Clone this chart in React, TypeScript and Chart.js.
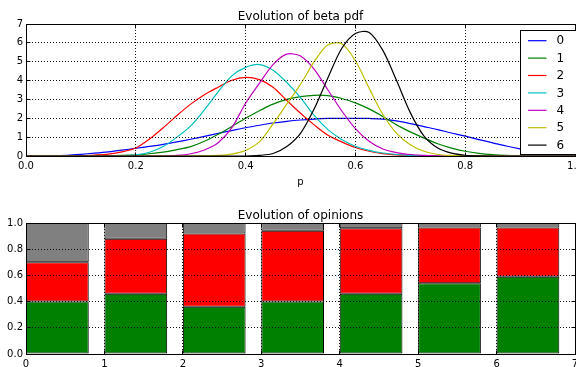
import React, { useEffect, useRef } from 'react';
import { Chart, registerables } from 'chart.js';

Chart.register(...registerables);

// ---------- Top chart: evolution of beta pdf ----------
const P = [0, 0.025, 0.05, 0.075, 0.1, 0.125, 0.15, 0.175, 0.2, 0.225, 0.25, 0.275, 0.3, 0.325, 0.35, 0.375, 0.4, 0.425, 0.45, 0.475, 0.5, 0.525, 0.55, 0.575, 0.6, 0.625, 0.65, 0.675, 0.7, 0.725, 0.75, 0.775, 0.8, 0.825, 0.85, 0.875, 0.9, 0.925, 0.95, 0.975, 1];

const SERIES_LABELS = ['0', '1', '2', '3', '4', '5', '6'];
const SERIES_COLORS = ['#0000ff', '#008000', '#ff0000', '#00bfbf', '#bf00bf', '#bfbf00', '#000000'];

const PDF_0 = [0, 0, 0.01, 0.04, 0.09, 0.15, 0.22, 0.31, 0.41, 0.51, 0.62, 0.75, 0.89, 1.04, 1.2, 1.35, 1.5, 1.63, 1.75, 1.84, 1.91, 1.96, 1.99, 2.0, 2.0, 1.99, 1.96, 1.86, 1.72, 1.56, 1.4, 1.22, 1.05, 0.87, 0.7, 0.53, 0.38, 0.25, 0.14, 0.05, 0];
const PDF_1 = [0, 0, 0, 0, 0, 0, 0.01, 0.03, 0.06, 0.12, 0.21, 0.34, 0.5, 0.78, 1.15, 1.57, 2.0, 2.4, 2.75, 3.0, 3.15, 3.22, 3.2, 3.05, 2.82, 2.5, 2.1, 1.65, 1.28, 0.95, 0.65, 0.42, 0.25, 0.14, 0.07, 0.03, 0.01, 0, 0, 0, 0];
const PDF_2 = [0, 0, 0, 0, 0.02, 0.05, 0.1, 0.22, 0.42, 0.9, 1.5, 2.15, 2.75, 3.25, 3.65, 4.02, 4.17, 4.05, 3.65, 2.95, 2.27, 1.65, 1.1, 0.75, 0.45, 0.25, 0.13, 0.06, 0.03, 0.01, 0, 0, 0, 0, 0, 0, 0, 0, 0, 0, 0];
const PDF_3 = [0, 0, 0, 0, 0, 0, 0, 0.02, 0.06, 0.2, 0.5, 1.0, 1.6, 2.45, 3.4, 4.25, 4.7, 4.85, 4.55, 3.9, 3.1, 2.15, 1.4, 0.88, 0.52, 0.3, 0.16, 0.08, 0.03, 0.01, 0, 0, 0, 0, 0, 0, 0, 0, 0, 0, 0];
const PDF_4 = [0, 0, 0, 0, 0, 0, 0, 0, 0, 0, 0, 0.03, 0.12, 0.32, 0.7, 1.5, 2.8, 3.85, 4.85, 5.4, 5.3, 4.6, 3.5, 2.4, 1.45, 0.78, 0.37, 0.18, 0.08, 0.03, 0.01, 0, 0, 0, 0, 0, 0, 0, 0, 0, 0];
const PDF_5 = [0, 0, 0, 0, 0, 0, 0, 0, 0, 0, 0, 0, 0, 0.01, 0.03, 0.1, 0.3, 0.75, 1.7, 2.75, 3.8, 5.0, 5.9, 5.95, 5.05, 3.6, 2.2, 1.2, 0.6, 0.25, 0.08, 0.03, 0.01, 0, 0, 0, 0, 0, 0, 0, 0];
const PDF_6 = [0, 0, 0, 0, 0, 0, 0, 0, 0, 0, 0, 0, 0, 0, 0, 0, 0, 0.03, 0.13, 0.5, 1.2, 2.5, 4.15, 5.7, 6.5, 6.55, 5.6, 4.0, 2.3, 1.05, 0.42, 0.15, 0.04, 0.01, 0, 0, 0, 0, 0, 0, 0];
const PDF_SERIES = [PDF_0, PDF_1, PDF_2, PDF_3, PDF_4, PDF_5, PDF_6];

const TOP_X_TICKS = ['0.0', '0.2', '0.4', '0.6', '0.8', '1.0'];
const TOP_Y_TICKS = ['0', '1', '2', '3', '4', '5', '6', '7'];

// ---------- Bottom chart: evolution of opinions ----------
const STEPS = [0, 1, 2, 3, 4, 5, 6];
const AGREE = [0.4, 0.46, 0.36, 0.4, 0.46, 0.54, 0.59];
const DISAGREE = [0.3, 0.42, 0.56, 0.54, 0.5, 0.425, 0.375];
const UNDECIDED = [0.3, 0.12, 0.08, 0.06, 0.04, 0.035, 0.035];
const BAR_COLORS = ['#008000', '#ff0000', '#808080'];
const BAR_WIDTH = 0.8;
const BOT_X_TICKS = ['0', '1', '2', '3', '4', '5', '6', '7'];
const BOT_Y_TICKS = ['0.0', '0.2', '0.4', '0.6', '0.8', '1.0'];

const FONT = '"DejaVu Sans", "Liberation Sans", sans-serif';
const W = 576;
const H = 367;

const al = (v: number) => Math.round(v - 0.5) + 0.5;

function makeDecor(cfg: { title: string; xlabel?: string; legend?: boolean }) {
  return {
    id: 'decor',
    afterDraw(chart: any) {
      const ctx = chart.ctx as CanvasRenderingContext2D;
      const a = chart.chartArea;
      const L = al(a.left), R = al(a.right), T = al(a.top), B = al(a.bottom);
      ctx.save();
      ctx.setLineDash([]);
      ctx.strokeStyle = '#000';
      ctx.lineWidth = 1;
      ctx.strokeRect(L, T, R - L, B - T);
      const xs = chart.scales.x, ys = chart.scales.y;
      ctx.beginPath();
      xs.ticks.forEach((t: any) => {
        const px = al(xs.getPixelForValue(t.value));
        ctx.moveTo(px, B); ctx.lineTo(px, B - 4);
        ctx.moveTo(px, T); ctx.lineTo(px, T + 4);
      });
      ys.ticks.forEach((t: any) => {
        const py = al(ys.getPixelForValue(t.value));
        ctx.moveTo(L, py); ctx.lineTo(L + 4, py);
        ctx.moveTo(R, py); ctx.lineTo(R - 4, py);
      });
      ctx.stroke();

      ctx.fillStyle = '#000';
      ctx.textAlign = 'center';
      ctx.textBaseline = 'alphabetic';
      ctx.font = `12px ${FONT}`;
      ctx.fillText(cfg.title, (a.left + a.right) / 2, a.top - 4);
      if (cfg.xlabel) {
        ctx.font = `10px ${FONT}`;
        ctx.fillText(cfg.xlabel, (a.left + a.right) / 2, a.bottom + 29);
      }

      if (cfg.legend) {
        const ds = chart.data.datasets;
        const bl = al(a.right - 54.5);
        const bt = a.top + 6.5;
        const bb = a.bottom - 1.5;
        ctx.fillStyle = '#fff';
        ctx.fillRect(bl, bt, 80, bb - bt);
        ctx.strokeStyle = '#000';
        ctx.lineWidth = 1;
        ctx.strokeRect(bl, bt, 80, bb - bt);
        ctx.font = `12px ${FONT}`;
        ctx.textAlign = 'left';
        ctx.textBaseline = 'middle';
        ds.forEach((d: any, i: number) => {
          const y = bt + 10.2 + i * 17.4;
          ctx.strokeStyle = d.borderColor;
          ctx.lineWidth = 1.2;
          ctx.beginPath();
          ctx.moveTo(bl + 7.5, y);
          ctx.lineTo(bl + 26, y);
          ctx.stroke();
          ctx.fillStyle = '#000';
          ctx.fillText(d.label, bl + 36, y + 0.5);
        });
      }
      ctx.restore();
    },
  };
}

const gridCommon = {
  color: 'rgba(0,0,0,0.9)',
  lineWidth: 1,
  drawTicks: false,
  z: 1,
};
const borderCommon = { display: false, dash: [1, 2] };
const tickFont = { family: FONT, size: 10 };

export default function App() {
  const topRef = useRef<HTMLCanvasElement | null>(null);
  const botRef = useRef<HTMLCanvasElement | null>(null);

  useEffect(() => {
    document.body.style.margin = '0';
    const top = new Chart(topRef.current as HTMLCanvasElement, {
      type: 'line',
      data: {
        datasets: PDF_SERIES.map((s, i) => ({
          label: SERIES_LABELS[i],
          data: P.map((p, j) => ({ x: p, y: s[j] })),
          borderColor: SERIES_COLORS[i],
          backgroundColor: SERIES_COLORS[i],
          borderWidth: 1.2,
          pointRadius: 0,
          fill: false,
          tension: 0.3,
          order: PDF_SERIES.length - i,
        })),
      },
      options: {
        animation: false,
        responsive: false,
        devicePixelRatio: 1,
        events: [],
        layout: { padding: { top: 24, bottom: H - 186, left: 0, right: 1 } },
        plugins: { legend: { display: false }, title: { display: false }, tooltip: { enabled: false } },
        scales: {
          x: {
            type: 'linear',
            min: 0,
            max: 1,
            afterFit: (s: any) => { s.height = 30; s.paddingLeft = 0; s.paddingRight = 0; },
            ticks: {
              stepSize: 0.2,
              padding: 4,
              color: '#000',
              font: tickFont,
              maxRotation: 0,
              autoSkip: false,
              callback: (_v: any, i: number) => TOP_X_TICKS[i],
            },
            grid: gridCommon,
            border: borderCommon,
          },
          y: {
            min: 0,
            max: 7,
            afterFit: (s: any) => { s.width = 26; s.paddingTop = 0; s.paddingBottom = 0; },
            ticks: {
              stepSize: 1,
              padding: 3,
              color: '#000',
              font: tickFont,
              autoSkip: false,
              callback: (_v: any, i: number) => TOP_Y_TICKS[i],
            },
            grid: gridCommon,
            border: borderCommon,
          },
        },
      },
      plugins: [makeDecor({ title: 'Evolution of beta pdf', xlabel: 'p', legend: true })],
    } as any);

    const barSets = [AGREE, DISAGREE, UNDECIDED];
    const bot = new Chart(botRef.current as HTMLCanvasElement, {
      type: 'bar',
      data: {
        datasets: barSets.map((vals, k) => ({
          label: ['agree', 'disagree', 'undecided'][k],
          data: STEPS.map((s, i) => ({ x: s + BAR_WIDTH / 2, y: vals[i] })),
          backgroundColor: BAR_COLORS[k],
          borderColor: '#000',
          borderWidth: 1,
          borderSkipped: false,
          barPercentage: BAR_WIDTH,
          categoryPercentage: 1,
        })),
      },
      options: {
        animation: false,
        responsive: false,
        devicePixelRatio: 1,
        events: [],
        layout: { padding: { top: 223, bottom: 0, left: 0, right: 1 } },
        plugins: { legend: { display: false }, title: { display: false }, tooltip: { enabled: false } },
        scales: {
          x: {
            type: 'linear',
            stacked: true,
            min: 0,
            max: 7,
            offset: false,
            afterFit: (s: any) => { s.height = H - 354; s.paddingLeft = 0; s.paddingRight = 0; },
            ticks: {
              stepSize: 1,
              padding: 4,
              color: '#000',
              font: tickFont,
              maxRotation: 0,
              autoSkip: false,
              callback: (_v: any, i: number) => BOT_X_TICKS[i],
            },
            grid: { ...gridCommon, offset: false },
            border: borderCommon,
          },
          y: {
            stacked: true,
            min: 0,
            max: 1,
            afterFit: (s: any) => { s.width = 26; s.paddingTop = 0; s.paddingBottom = 0; },
            ticks: {
              stepSize: 0.2,
              padding: 3,
              color: '#000',
              font: tickFont,
              autoSkip: false,
              callback: (_v: any, i: number) => BOT_Y_TICKS[i],
            },
            grid: gridCommon,
            border: borderCommon,
          },
        },
      },
      plugins: [makeDecor({ title: 'Evolution of opinions' })],
    } as any);

    return () => {
      top.destroy();
      bot.destroy();
    };
  }, []);

  return (
    <div style={{ position: 'relative', width: W, height: H, background: '#fff', overflow: 'hidden' }}>
      <canvas ref={topRef} width={W} height={H} style={{ position: 'absolute', left: 0, top: 0, width: W, height: H }} />
      <canvas ref={botRef} width={W} height={H} style={{ position: 'absolute', left: 0, top: 0, width: W, height: H }} />
    </div>
  );
}
